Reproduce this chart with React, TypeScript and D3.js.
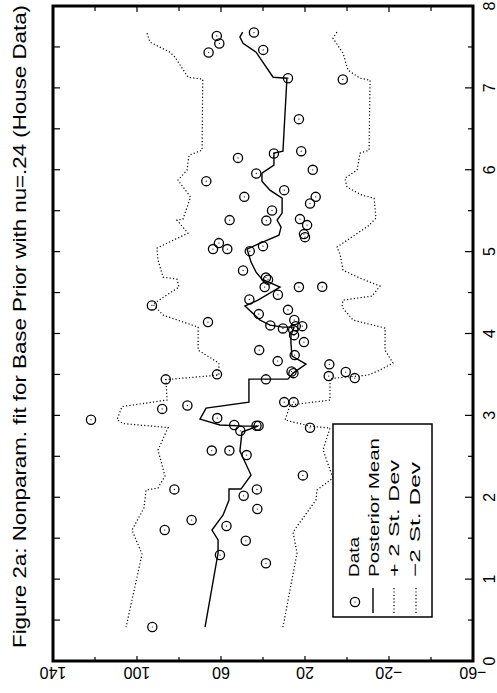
import React from "react";
import * as d3 from "d3";

// Data points: [x (0..8), value]
const dataX = [7.635, 7.542, 7.432, 7.676, 7.464, 7.118, 7.103, 6.618, 6.227, 6.199, 6.145, 5.999, 5.955, 5.861, 5.751, 5.669, 5.669, 5.588, 5.503, 5.385, 5.379, 5.397, 5.324, 5.214, 5.177, 5.104, 5.031, 5.031, 5.067, 5.006, 4.770, 4.683, 4.658, 4.567, 4.567, 4.570, 4.473, 4.416, 4.343, 4.289, 4.139, 4.237, 4.099, 4.062, 4.164, 4.090, 4.090, 4.042, 3.980, 3.895, 3.797, 3.736, 3.663, 3.623, 3.535, 3.516, 3.501, 3.440, 3.440, 3.480, 3.529, 3.455, 3.120, 3.079, 3.162, 3.162, 2.946, 2.967, 2.882, 2.812, 2.873, 2.873, 2.849, 2.570, 2.570, 2.515, 2.267, 2.096, 2.096, 2.018, 1.856, 1.722, 1.600, 1.648, 1.469, 1.294, 1.193, 0.415];
const dataY = [62.0, 60.8, 65.9, 44.3, 39.9, 28.1, 2.0, 22.9, 21.8, 34.8, 51.9, 16.3, 43.2, 67.0, 29.9, 48.9, 14.9, 17.6, 35.7, 55.9, 38.4, 22.4, 19.0, 20.5, 20.0, 61.0, 63.8, 57.0, 40.0, 46.3, 49.5, 38.6, 37.6, 39.2, 22.9, 11.8, 32.9, 46.5, 92.9, 28.1, 66.2, 42.0, 36.5, 30.5, 25.1, 24.4, 21.3, 25.6, 25.2, 20.5, 41.8, 24.9, 33.0, 8.4, 26.4, 25.5, 61.9, 86.3, 38.6, 8.7, 0.6, -3.7, 76.0, 88.0, 29.9, 25.4, 121.9, 61.8, 53.7, 50.8, 43.1, 42.1, 17.6, 64.4, 56.0, 47.8, 21.0, 82.2, 42.9, 49.2, 42.7, 74.0, 86.8, 57.4, 48.2, 60.5, 38.6, 92.7];

// Posterior mean
const meanX = [7.68, 7.62, 7.545, 7.436, 7.13, 7.118, 6.227, 6.203, 6.056, 5.958, 5.861, 5.751, 5.653, 5.47, 5.385, 5.299, 5.201, 5.091, 5.031, 4.872, 4.75, 4.664, 4.567, 4.408, 4.335, 4.164, 4.103, 4.078, 4.078, 3.98, 3.883, 3.724, 3.626, 3.516, 3.443, 3.443, 3.162, 3.089, 2.955, 2.882, 2.869, 2.869, 2.796, 2.564, 2.271, 2.10, 2.10, 1.966, 1.783, 1.60, 1.478, 1.319, 0.415];
const meanY = [49.7, 51.0, 49.5, 43.3, 35.2, 28.6, 30.5, 34.8, 34.8, 40.5, 40.5, 36.7, 30.9, 30.9, 33.3, 31.4, 32.4, 42.4, 47.6, 45.7, 43.3, 40.5, 31.9, 42.4, 48.6, 41.4, 36.7, 30.5, 25.2, 26.7, 26.7, 26.2, 19.5, 25.7, 28.1, 46.7, 46.7, 67.1, 70.0, 60.5, 49.0, 42.4, 50.0, 51.0, 45.7, 50.5, 56.2, 56.2, 59.0, 64.3, 61.4, 61.4, 67.6];

// + 2 St. Dev
const upperX = [7.668, 7.558, 7.436, 7.375, 7.13, 7.106, 6.239, 6.178, 5.995, 5.873, 5.666, 5.397, 5.385, 5.226, 5.043, 4.896, 4.689, 4.664, 4.567, 4.359, 4.225, 4.078, 3.797, 3.639, 3.492, 3.437, 3.187, 3.108, 2.949, 2.90, 2.851, 2.577, 2.259, 2.112, 2.088, 1.868, 1.60, 1.306, 0.415];
const upperY = [95.2, 93.8, 84.3, 81.9, 75.7, 68.7, 69.0, 75.2, 76.2, 80.5, 74.5, 78.1, 81.0, 75.7, 90.5, 90.0, 87.6, 81.0, 80.0, 92.4, 87.6, 70.9, 70.9, 61.0, 61.0, 86.2, 85.7, 107.1, 109.5, 106.7, 85.2, 90.0, 86.7, 90.0, 95.7, 96.7, 102.4, 97.6, 105.2];

// -2 St. Dev
const lowerX = [7.68, 7.607, 7.424, 7.216, 7.118, 7.094, 6.239, 6.203, 5.995, 5.897, 5.788, 5.69, 5.653, 5.409, 5.311, 5.055, 4.97, 4.774, 4.676, 4.579, 4.457, 4.408, 4.323, 4.164, 4.066, 3.797, 3.639, 3.553, 3.492, 3.449, 3.187, 3.126, 2.943, 2.869, 2.845, 2.577, 2.235, 2.088, 1.966, 1.575, 1.319, 0.415];
const lowerY = [4.8, 6.7, 1.9, -0.5, -6.2, -11.0, -10.5, -6.2, -4.8, 1.0, 0.0, -7.1, -12.9, -13.8, -10.0, 4.8, 3.3, 1.9, -6.2, -15.7, -11.9, 1.9, 2.4, -2.9, -18.1, -18.1, -21.9, -15.7, -10.0, 8.1, 8.1, 27.1, 29.5, 17.6, 8.1, 11.4, 6.7, 14.3, 14.8, 25.7, 23.8, 30.5];

const valueTicks = [140, 100, 60, 20, -20, -60];
const valueMinor = [120, 80, 40, 0, -40];
const xTicks = [0, 1, 2, 3, 4, 5, 6, 7, 8];
const xMinor = [0.5, 1.5, 2.5, 3.5, 4.5, 5.5, 6.5, 7.5];

const TITLE = "Figure 2a: Nonparam. fit for Base Prior with nu=.24 (House Data)";
const legendLabels = ["Data", "Posterior Mean", "+ 2 St. Dev", "\u22122 St. Dev"];

const FONT = "'Liberation Sans', Arial, Helvetica, sans-serif";

export default function App() {
  const W = 497, H = 693;
  const L = 53, R = 473, T = 6, B = 661;
  const sv = d3.scaleLinear().domain([140, -60]).range([L, R]);
  const sx = d3.scaleLinear().domain([0, 8]).range([B, T]);

  const mk = (xs: number[], ys: number[]) =>
    d3.line<number>().x((i) => sv(ys[i])).y((i) => sx(xs[i]))(xs.map((_, i) => i)) || "";

  const meanPath = mk(meanX, meanY);
  const upperPath = mk(upperX, upperY);
  const lowerPath = mk(lowerX, lowerY);

  const legendBaselines = [359, 379, 399, 420];
  const legendLens = [40, 139, 117, 115];

  return (
    <svg width={W} height={H} style={{ position: "absolute", left: 0, top: 0, background: "#fff" }} fontFamily={FONT}>
      <rect x={0} y={0} width={W} height={H} fill="#fff" />
      {/* Title */}
      <text transform={`translate(26,648) rotate(-90)`} fontSize={18} textLength={643} lengthAdjust="spacingAndGlyphs" fill="#000">
        {TITLE}
      </text>

      {/* curves */}
      <path d={upperPath} fill="none" stroke="#000" strokeWidth={1.2} strokeDasharray="1.2,2.2" />
      <path d={lowerPath} fill="none" stroke="#000" strokeWidth={1.2} strokeDasharray="1.2,2.2" />
      <path d={meanPath} fill="none" stroke="#000" strokeWidth={1.4} />

      {/* data */}
      {dataX.map((x, i) => (
        <g key={i}>
          <circle cx={sv(dataY[i])} cy={sx(x)} r={4.6} fill="none" stroke="#000" strokeWidth={1.3} />
          <circle cx={sv(dataY[i])} cy={sx(x)} r={0.6} fill="#000" />
        </g>
      ))}

      {/* ticks */}
      {xTicks.map((t) => (
        <g key={"xt" + t}>
          <line x1={L} x2={L + 7} y1={sx(t)} y2={sx(t)} stroke="#000" strokeWidth={1.2} />
          <line x1={R} x2={R - 8} y1={sx(t)} y2={sx(t)} stroke="#000" strokeWidth={1.2} />
          <text transform={`translate(489,${sx(t)}) rotate(-90)`} textAnchor="middle" dy="0.36em" fontSize={16}>
            {String(t)}
          </text>
        </g>
      ))}
      {xMinor.map((t) => (
        <g key={"xm" + t}>
          <line x1={L} x2={L + 7} y1={sx(t)} y2={sx(t)} stroke="#000" strokeWidth={1.2} />
          <line x1={R} x2={R - 5} y1={sx(t)} y2={sx(t)} stroke="#000" strokeWidth={1.2} />
        </g>
      ))}
      {valueTicks.map((v) => (
        <g key={"vt" + v}>
          <line x1={sv(v)} x2={sv(v)} y1={B} y2={B - 5} stroke="#000" strokeWidth={1.2} />
          <line x1={sv(v)} x2={sv(v)} y1={T} y2={T + 6} stroke="#000" strokeWidth={1.2} />
          <text transform={`translate(${sv(v)},673) rotate(180)`} textAnchor="middle" dy="0.36em" fontSize={16}>
            {v < 0 ? "\u2212" + Math.abs(v) : String(v)}
          </text>
        </g>
      ))}
      {valueMinor.map((v) => (
        <g key={"vm" + v}>
          <line x1={sv(v)} x2={sv(v)} y1={B} y2={B - 4} stroke="#000" strokeWidth={1.2} />
          <line x1={sv(v)} x2={sv(v)} y1={T} y2={T + 5} stroke="#000" strokeWidth={1.2} />
        </g>
      ))}

      {/* frame */}
      <rect x={L} y={T} width={R - L} height={B - T} fill="none" stroke="#000" strokeWidth={3} />

      {/* legend */}
      <rect x={333} y={424} width={99} height={193} fill="#fff" stroke="#000" strokeWidth={1.5} />
      <circle cx={355} cy={602} r={4.6} fill="none" stroke="#000" strokeWidth={1.3} />
      <circle cx={355} cy={602} r={0.6} fill="#000" />
      <line x1={373} x2={373} y1={588} y2={613} stroke="#000" strokeWidth={1.4} />
      <line x1={394} x2={394} y1={588} y2={614} stroke="#000" strokeWidth={1.2} strokeDasharray="1.2,2.2" />
      <line x1={416} x2={416} y1={588} y2={614} stroke="#000" strokeWidth={1.2} strokeDasharray="1.2,2.2" />
      {legendLabels.map((s, i) => (
        <text key={s} transform={`translate(${legendBaselines[i]},577) rotate(-90)`} fontSize={15} textLength={legendLens[i]} lengthAdjust="spacingAndGlyphs">
          {s}
        </text>
      ))}
    </svg>
  );
}
